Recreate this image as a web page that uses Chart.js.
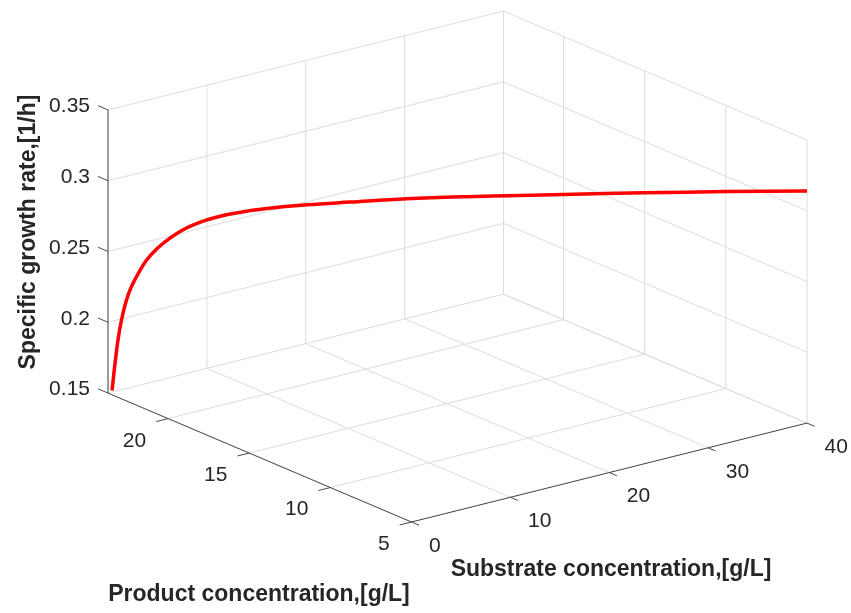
<!DOCTYPE html>
<html>
<head>
<meta charset="utf-8">
<title>Specific growth rate</title>
<script src="https://cdn.jsdelivr.net/npm/chart.js@4.4.0/dist/chart.umd.min.js"></script>
<style>
  html, body { margin: 0; padding: 0; background: #fff; }
  #grafico { display: block; }
</style>
</head>
<body>
<canvas id="grafico" width="851" height="613"></canvas>
<script>
// === DADOS ===
const substrato = [0.23, 0.38, 0.57, 0.77, 1.05, 1.34, 1.72, 2.20, 2.77, 3.35, 4.30, 5.25,
  6.21, 7.16, 9.07, 11.37, 13.85, 17.09, 20.53, 23.59, 26.05, 30.71, 35.37, 40.0];
const produto = [23.59, 23.52, 23.43, 23.34, 23.21, 23.07, 22.90, 22.67, 22.41, 22.13, 21.69, 21.25,
  20.80, 20.35, 19.46, 18.38, 17.23, 15.71, 14.12, 12.67, 11.52, 9.34, 7.16, 5.0];
const taxaCrescimento = [0.152, 0.169, 0.188, 0.202, 0.216, 0.226, 0.235, 0.245, 0.253, 0.2595, 0.2676, 0.2733,
  0.2775, 0.2807, 0.2852, 0.289, 0.2922, 0.2963, 0.2995, 0.302, 0.3041, 0.3077, 0.3111, 0.3139];

const ticksSubstrato = [0, 10, 20, 30, 40];
const ticksProduto = [5, 10, 15, 20];
const ticksTaxa = [0.15, 0.2, 0.25, 0.3, 0.35];

const limSubstrato = [0, 40];
const limProduto = [5, 23.7];
const limTaxa = [0.15, 0.35];

const rotuloSubstrato = "Substrate concentration,[g/L]";
const rotuloProduto = "Product concentration,[g/L]";
const rotuloTaxa = "Specific growth rate,[1/h]";

// === VISTA 3D (projecao ortografica) ===
const AZ = 37.5 * Math.PI / 180;
const EL = 19 * Math.PI / 180;
const ALTURA_CAIXA = 0.6;

function projetar(s, p, z) {
  const sn = (s - limSubstrato[0]) / (limSubstrato[1] - limSubstrato[0]);
  const pn = (p - limProduto[0]) / (limProduto[1] - limProduto[0]);
  const zn = (z - limTaxa[0]) / (limTaxa[1] - limTaxa[0]) * ALTURA_CAIXA;
  return {
    x: sn * Math.cos(AZ) - pn * Math.sin(AZ),
    y: (sn * Math.sin(AZ) + pn * Math.cos(AZ)) * Math.sin(EL) + zn * Math.cos(EL)
  };
}

const FONTE = '"Liberation Sans", Arial, Helvetica, sans-serif';
const corTexto = '#262626';

// grade, eixos e rotulos da caixa 3D
const caixa3D = {
  id: 'caixa3D',
  beforeDatasetsDraw(chart) {
    const ctx = chart.ctx;
    const esc = chart.scales;
    const px = (s, p, z) => {
      const q = projetar(s, p, z);
      return [esc.x.getPixelForValue(q.x), esc.y.getPixelForValue(q.y)];
    };
    const linha = (a, b, cor) => {
      ctx.beginPath();
      ctx.moveTo(a[0], a[1]);
      ctx.lineTo(b[0], b[1]);
      ctx.strokeStyle = cor;
      ctx.lineWidth = 1;
      ctx.stroke();
    };
    const [s0, s1] = limSubstrato;
    const [p0, p1] = limProduto;
    const [z0, z1] = limTaxa;

    ctx.save();
    // grade: chao, parede de tras (P max) e parede direita (S max)
    const corGrade = '#dcdcdc';
    ticksSubstrato.forEach(s => {
      linha(px(s, p0, z0), px(s, p1, z0), corGrade);
      linha(px(s, p1, z0), px(s, p1, z1), corGrade);
    });
    ticksProduto.forEach(p => {
      linha(px(s0, p, z0), px(s1, p, z0), corGrade);
      linha(px(s1, p, z0), px(s1, p, z1), corGrade);
    });
    ticksTaxa.forEach(z => {
      linha(px(s0, p1, z), px(s1, p1, z), corGrade);
      linha(px(s1, p1, z), px(s1, p0, z), corGrade);
    });

    // eixos
    const corEixo = '#4a4a4a';
    linha(px(s0, p1, z0), px(s0, p1, z1), corEixo);
    linha(px(s0, p0, z0), px(s0, p1, z0), corEixo);
    linha(px(s0, p0, z0), px(s1, p0, z0), corEixo);

    ctx.fillStyle = corTexto;
    ctx.font = '21px ' + FONTE;
    ctx.textBaseline = 'alphabetic';

    // ticks do eixo z (taxa)
    ctx.textAlign = 'right';
    ticksTaxa.forEach(z => {
      const a = px(s0, p1, z);
      const b = px(s0, p1 + 0.033 * (p1 - p0), z);
      linha(a, b, corEixo);
      ctx.fillText(String(z), b[0] - 8, b[1] + 6.5);
    });

    // ticks do produto
    ticksProduto.forEach(p => {
      const a = px(s0, p, z0);
      const b = px(s0 - 0.03 * (s1 - s0), p, z0);
      linha(a, b, corEixo);
      ctx.fillText(String(p), b[0] - 10, b[1] + 25);
    });

    // ticks do substrato
    ctx.textAlign = 'left';
    ticksSubstrato.forEach(s => {
      const a = px(s, p0, z0);
      const b = px(s, p0 - 0.025 * (p1 - p0), z0);
      linha(a, b, corEixo);
      ctx.fillText(String(s), b[0] + 10, b[1] + 26.5);
    });

    // rotulos dos eixos
    ctx.font = 'bold 23px ' + FONTE;
    ctx.textAlign = 'center';
    ctx.fillText(rotuloSubstrato, 611, 576);
    ctx.fillText(rotuloProduto, 259, 601);

    ctx.translate(35, 232);
    ctx.rotate(-Math.PI / 2);
    ctx.fillText(rotuloTaxa, 0, 0);
    ctx.restore();
  }
};

const pontos = substrato.map((s, i) => projetar(s, produto[i], taxaCrescimento[i]));

const ctx = document.getElementById('grafico').getContext('2d');
new Chart(ctx, {
  type: 'scatter',
  data: {
    datasets: [{
      data: pontos,
      showLine: true,
      borderColor: '#ff0000',
      borderWidth: 3.5,
      pointRadius: 0,
      tension: 0.4,
      clip: false
    }]
  },
  options: {
    responsive: false,
    animation: false,
    devicePixelRatio: 1,
    layout: { padding: { left: 108, right: 44, top: 11, bottom: 91 } },
    plugins: {
      legend: { display: false },
      tooltip: { enabled: false }
    },
    scales: {
      x: { type: 'linear', display: false, min: -Math.sin(AZ), max: Math.cos(AZ) },
      y: {
        type: 'linear', display: false, min: 0,
        max: (Math.sin(AZ) + Math.cos(AZ)) * Math.sin(EL) + ALTURA_CAIXA * Math.cos(EL)
      }
    }
  },
  plugins: [caixa3D]
});
</script>
</body>
</html>
